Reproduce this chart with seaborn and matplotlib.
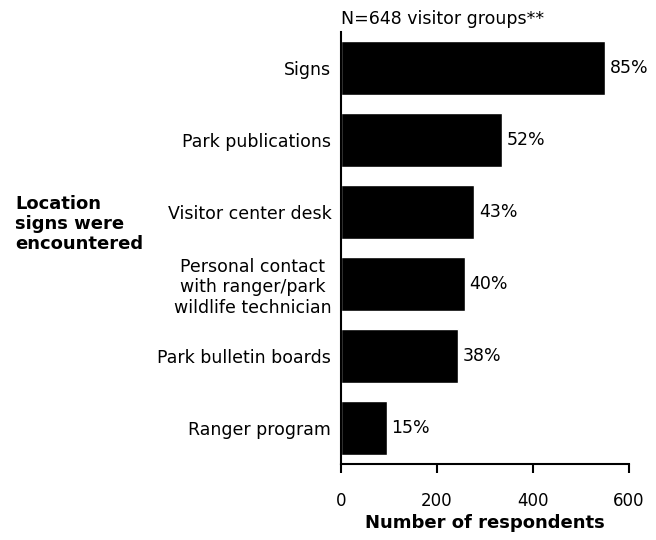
import matplotlib
matplotlib.use('Agg')
import matplotlib.pyplot as plt
import seaborn as sns
import pandas as pd

# values
locations = ['Signs', 'Park publications', 'Visitor center desk',
             'Personal contact\nwith ranger/park\nwildlife technician',
             'Park bulletin boards', 'Ranger program']
respondents = [550, 336, 278, 258, 244, 95]
pct_labels = ['85%', '52%', '43%', '40%', '38%', '15%']
xticks = [0, 200, 400, 600]

sns.set_style('white')
plt.rcParams['font.family'] = ['DejaVu Sans']
plt.rcParams['text.color'] = 'black'
plt.rcParams['axes.labelcolor'] = 'black'
plt.rcParams['xtick.color'] = 'black'
plt.rcParams['ytick.color'] = 'black'

df = pd.DataFrame({'location': locations, 'n': respondents})

fig = plt.figure(figsize=(6.56, 5.4), dpi=100)
ax = fig.add_axes([0.5198, 0.1407, 0.439, 0.80])

sns.barplot(data=df, x='n', y='location', orient='h', color='black',
            width=0.75, saturation=1, ax=ax)

for i, (v, lab) in enumerate(zip(respondents, pct_labels)):
    ax.text(v + 10, i, lab, va='center', ha='left', fontsize=12.5, color='black')

ax.set_xlim(0, 600)
ax.set_ylim(5.5, -0.5)
ax.set_xticks(xticks)
ax.set_xticklabels([str(t) for t in xticks], fontsize=12)
ax.tick_params(axis='x', bottom=True, direction='out', length=6.5, width=1.5, pad=13.5)
ax.tick_params(axis='y', left=False, length=0, pad=7)
for lab in ax.get_yticklabels():
    lab.set_fontsize(12.5)
    lab.set_multialignment('center')

for s in ['top', 'right']:
    ax.spines[s].set_visible(False)
for s in ['left', 'bottom']:
    ax.spines[s].set_linewidth(1.5)
    ax.spines[s].set_color('black')

ax.set_ylabel('')
ax.set_xlabel('Number of respondents', fontsize=13, fontweight='bold', labelpad=3)

fig.text(0.5198, 0.965, 'N=648 visitor groups**', fontsize=12.5, ha='left', va='center')
fig.text(0.023, 0.585, 'Location\nsigns were\nencountered', fontsize=13,
         fontweight='bold', ha='left', va='center', linespacing=1.15)

fig.savefig('out.png', dpi=100)
